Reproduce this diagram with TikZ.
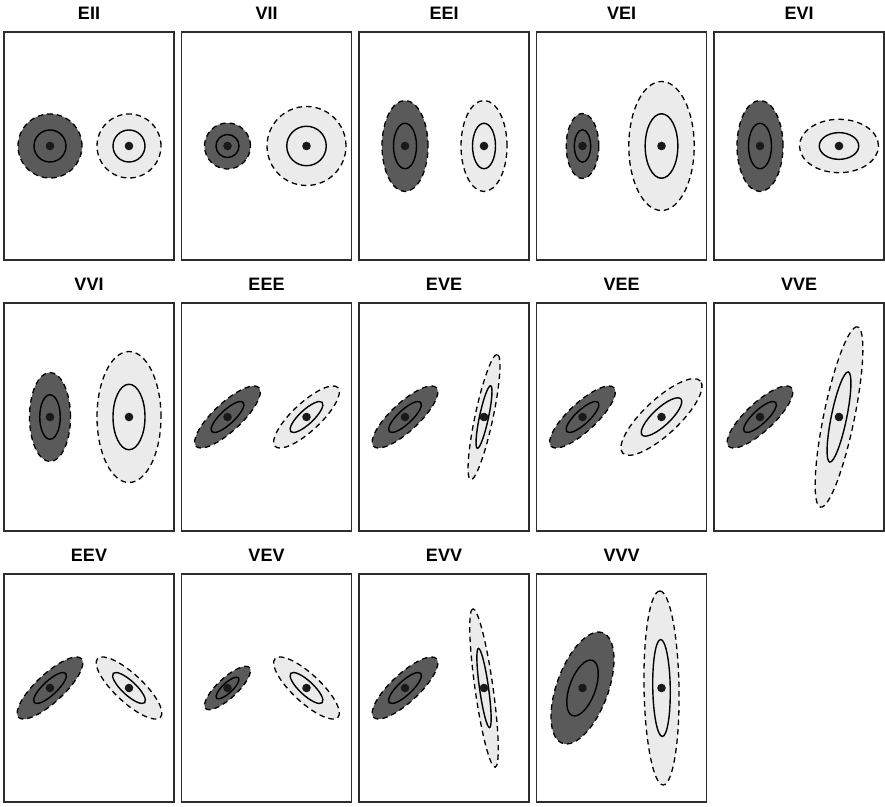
\documentclass[tikz,border=0pt]{standalone}
\usepackage{fontspec}
\setmainfont{Liberation Sans}

\definecolor{darkfill}{RGB}{90,90,90}
\definecolor{lightfill}{RGB}{235,235,235}
\definecolor{framecol}{RGB}{45,45,45}
\tikzset{
  panel/.style={draw=framecol, line width=1.5pt, minimum width=170pt,
                minimum height=228pt, inner sep=0},
  ptitle/.style={font=\fontsize{18}{20}\selectfont\bfseries, inner sep=0},
  outerell/.style={draw=black, line width=1.3pt, dash pattern=on 5.5pt off 4pt},
  innerell/.style={draw=black, line width=1.4pt},
}

\begin{document}
\begin{tikzpicture}[x=1pt, y=1pt]
    \useasboundingbox (0,0) rectangle (885,806);

    % panel index / model / dark cluster (a,b,angle) / light cluster (a,b,angle)
    \foreach \i/\lab/\da/\db/\dr/\la/\lb/\lr in {
      0/EII/32/32/0/32/32/0,
      1/VII/23/23/0/39.5/39.5/0,
      2/EEI/23/45.5/0/23/45.5/0,
      3/VEI/16.3/32.5/0/32.7/64.5/0,
      4/EVI/23/45.5/0/39.5/26.7/0,
      5/VVI/20.5/44.5/0/32/65.5/0,
      6/EEE/43/14/43/43/14/43,
      7/EVE/43/14/43/64/9/78,
      8/VEE/43/14/43/53/17.5/43,
      9/VVE/43/14/43/92/15.4/78.4,
      10/EEV/43/14/43/43/14/-43,
      11/VEV/30/10/43/43/14/-43,
      12/EVV/43/14/43/80/9/98,
      13/VVV/58.8/25.8/70/97/17.5/91} {

      \pgfmathsetmacro{\px}{4 + 177.5*mod(\i,5)}
      \pgfmathsetmacro{\cy}{660 - 271*floor(\i/5)}

      % Frame and title
      \node[panel] (f\i) at (\px+85, \cy) {};
      \node[ptitle, anchor=base] (t\i) at ([yshift=12pt]f\i.north) {\lab};

      % Dark cluster
      \begin{scope}[shift={(\px+46, \cy)}, rotate=\dr]
        \filldraw[outerell, fill=darkfill] (0,0) ellipse [x radius=\da, y radius=\db];
        \draw[innerell] (0,0) ellipse [x radius=0.5*\da, y radius=0.5*\db];
        \fill[black!90] (0,0) circle [radius=4.3];
      \end{scope}

      % Light cluster
      \begin{scope}[shift={(\px+125, \cy)}, rotate=\lr]
        \filldraw[outerell, fill=lightfill] (0,0) ellipse [x radius=\la, y radius=\lb];
        \draw[innerell] (0,0) ellipse [x radius=0.5*\la, y radius=0.5*\lb];
        \fill[black!90] (0,0) circle [radius=4.3];
      \end{scope}
    }
\end{tikzpicture}
\end{document}
